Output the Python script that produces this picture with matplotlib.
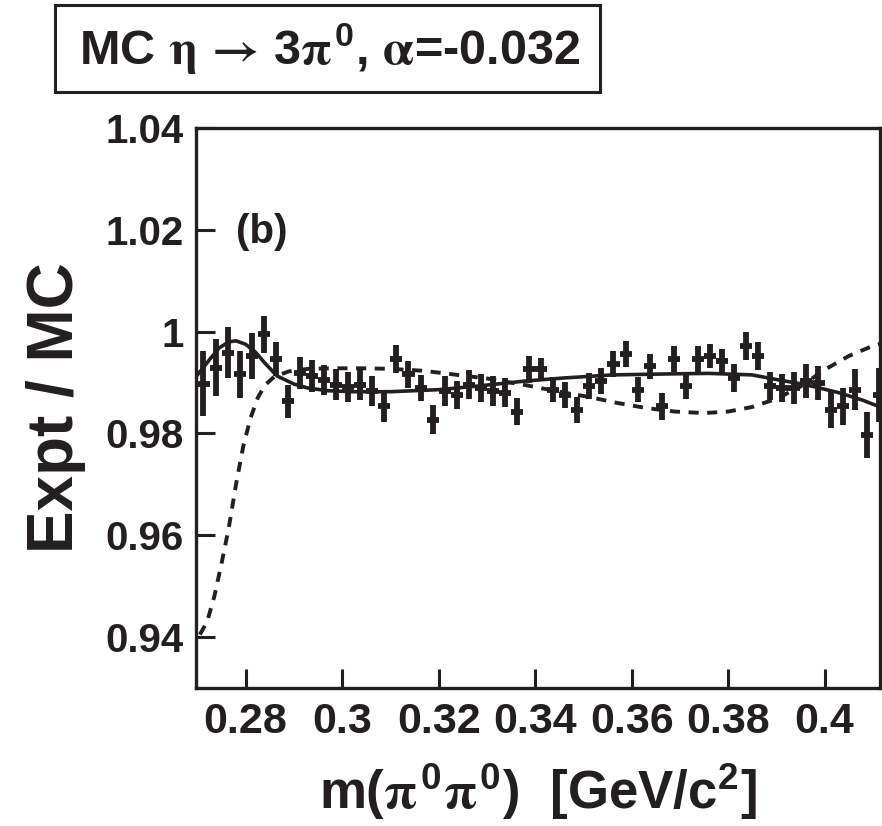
import numpy as np
import matplotlib
matplotlib.use("Agg")
import matplotlib.pyplot as plt
from matplotlib.patches import Rectangle

plt.rcParams["font.family"] = ["Liberation Sans", "DejaVu Sans"]
plt.rcParams["font.weight"] = "bold"
plt.rcParams["mathtext.fontset"] = "custom"
plt.rcParams["mathtext.rm"] = "STIXGeneral"
plt.rcParams["mathtext.it"] = "STIXGeneral"
plt.rcParams["mathtext.bf"] = "Liberation Sans:bold"
plt.rcParams["mathtext.fallback"] = "stix"

INK = "#231f20"

# ratio Expt/MC, bins of 2.5 MeV starting at 0.27
x0 = 0.27125
bin_w = 0.0025
ratio = [0.9898, 0.9929, 0.9959, 0.9916, 0.9952, 0.9995, 0.9946, 0.9863, 0.9919, 0.9913,
         0.9905, 0.9896, 0.9891, 0.9896, 0.9883, 0.9853, 0.9946, 0.9916, 0.9889, 0.9827,
         0.9883, 0.9876, 0.9896, 0.9889, 0.9883, 0.9880, 0.9843, 0.9926, 0.9926, 0.9886,
         0.9876, 0.9846, 0.9893, 0.9903, 0.9936, 0.9956, 0.9886, 0.9932, 0.9853, 0.9946,
         0.9893, 0.9946, 0.9952, 0.9942, 0.9909, 0.9972, 0.9952, 0.9893, 0.9889, 0.9889,
         0.9903, 0.9899, 0.9846, 0.9853, 0.9886, 0.9797, 0.9876]
ratio_err = [0.0064, 0.0056, 0.0050, 0.0046, 0.0045, 0.0036, 0.0033, 0.0032, 0.0031, 0.0031,
             0.0030, 0.0030, 0.0030, 0.0030, 0.0029, 0.0031, 0.0027, 0.0026, 0.0026, 0.0028,
             0.0029, 0.0027, 0.0028, 0.0027, 0.0029, 0.0028, 0.0026, 0.0026, 0.0023, 0.0025,
             0.0026, 0.0026, 0.0025, 0.0025, 0.0025, 0.0026, 0.0024, 0.0025, 0.0026, 0.0025,
             0.0025, 0.0025, 0.0024, 0.0023, 0.0028, 0.0027, 0.0028, 0.0028, 0.0028, 0.0031,
             0.0033, 0.0033, 0.0035, 0.0036, 0.0040, 0.0046, 0.0053]
mass = [x0 + bin_w * i for i in range(len(ratio))]

# smooth fit (solid)
fit_x = [0.2700, 0.2725, 0.2745, 0.2765, 0.2780, 0.2800, 0.2820, 0.2840, 0.2865, 0.2900,
         0.2930, 0.2970, 0.3020, 0.3100, 0.3200, 0.3280, 0.3380, 0.3460, 0.3560, 0.3680,
         0.3760, 0.3850, 0.3900, 0.3960, 0.4030, 0.4080, 0.4115]
fit_y = [0.9915, 0.9945, 0.9968, 0.9980, 0.9982, 0.9975, 0.9960, 0.9938, 0.9913, 0.9897,
         0.9889, 0.9884, 0.9882, 0.9882, 0.9886, 0.9893, 0.9903, 0.9909, 0.9915, 0.9917,
         0.9918, 0.9915, 0.9906, 0.9896, 0.9880, 0.9865, 0.9852]

# alternative curve (dashed)
alt_x = [0.2705, 0.2720, 0.2735, 0.2750, 0.2765, 0.2780, 0.2795, 0.2810, 0.2825, 0.2840,
         0.2860, 0.2890, 0.2930, 0.2980, 0.3040, 0.3100, 0.3170, 0.3230, 0.3300, 0.3380,
         0.3450, 0.3510, 0.3570, 0.3630, 0.3690, 0.3750, 0.3800, 0.3850, 0.3900, 0.3950,
         0.4000, 0.4050, 0.4100, 0.4115]
alt_y = [0.9405, 0.9430, 0.9480, 0.9545, 0.9615, 0.9700, 0.9775, 0.9830, 0.9870, 0.9895,
         0.9912, 0.9922, 0.9927, 0.9928, 0.9928, 0.9927, 0.9923, 0.9916, 0.9908, 0.9895,
         0.9882, 0.9872, 0.9860, 0.9850, 0.9843, 0.9840, 0.9843, 0.9852, 0.9868, 0.9892,
         0.9925, 0.9952, 0.9972, 0.9976]

xticks = [0.28, 0.30, 0.32, 0.34, 0.36, 0.38, 0.40]
xtick_labels = ["0.28", "0.3", "0.32", "0.34", "0.36", "0.38", "0.4"]
yticks = [0.94, 0.96, 0.98, 1.00, 1.02, 1.04]
ytick_labels = ["0.94", "0.96", "0.98", "1", "1.02", "1.04"]

fig = plt.figure(figsize=(8.82, 8.26), dpi=100)
ax = fig.add_axes([196 / 882, 1 - 688 / 826, 684 / 882, 560 / 826])

ax.errorbar(mass, ratio, yerr=ratio_err, xerr=bin_w / 2, fmt="none",
            ecolor=INK, elinewidth=4.2, capsize=0, zorder=3)
ax.plot(fit_x, fit_y, color=INK, lw=2.6, zorder=2)
ax.plot(alt_x, alt_y, color=INK, lw=2.8, dashes=(2.6, 2.2), zorder=2)

ax.set_xlim(0.2697, 0.4115)
ax.set_ylim(0.93, 1.04)
ax.set_xticks(xticks)
ax.set_xticklabels(xtick_labels)
ax.set_yticks(yticks)
ax.set_yticklabels(ytick_labels)
ax.tick_params(direction="in", length=14, width=2.2, pad=9, colors=INK)
ax.tick_params(axis="x", labelsize=31, pad=10)
ax.tick_params(axis="y", labelsize=29)
for s in ax.spines.values():
    s.set_linewidth(2.4)
    s.set_color(INK)

ax.text(0.058, 0.815, "(b)", transform=ax.transAxes, fontsize=29,
        fontweight="bold", va="center", ha="left", color=INK)

ax.set_ylabel("Expt / MC", fontsize=46, fontweight="bold", color=INK, labelpad=14)
ax.set_xlabel(r"m($\pi^{\mathbf{0}}\pi^{\mathbf{0}}$)  [GeV/c$^{\mathbf{2}}$]",
              fontsize=38, fontweight="bold", color=INK, labelpad=14)

# title box
fig.patches.append(Rectangle((55 / 882, 1 - 92 / 826), 545 / 882, 87 / 826,
                             transform=fig.transFigure, facecolor="white",
                             edgecolor=INK, linewidth=2.2))
fig.text(330 / 882, 1 - 49 / 826,
         r"MC $\eta\,\rightarrow\,$3$\pi^{\mathbf{0}}$, $\alpha$=-0.032",
         fontsize=35, fontweight="bold", color=INK, ha="center", va="center")

fig.savefig("out.png", dpi=100)
